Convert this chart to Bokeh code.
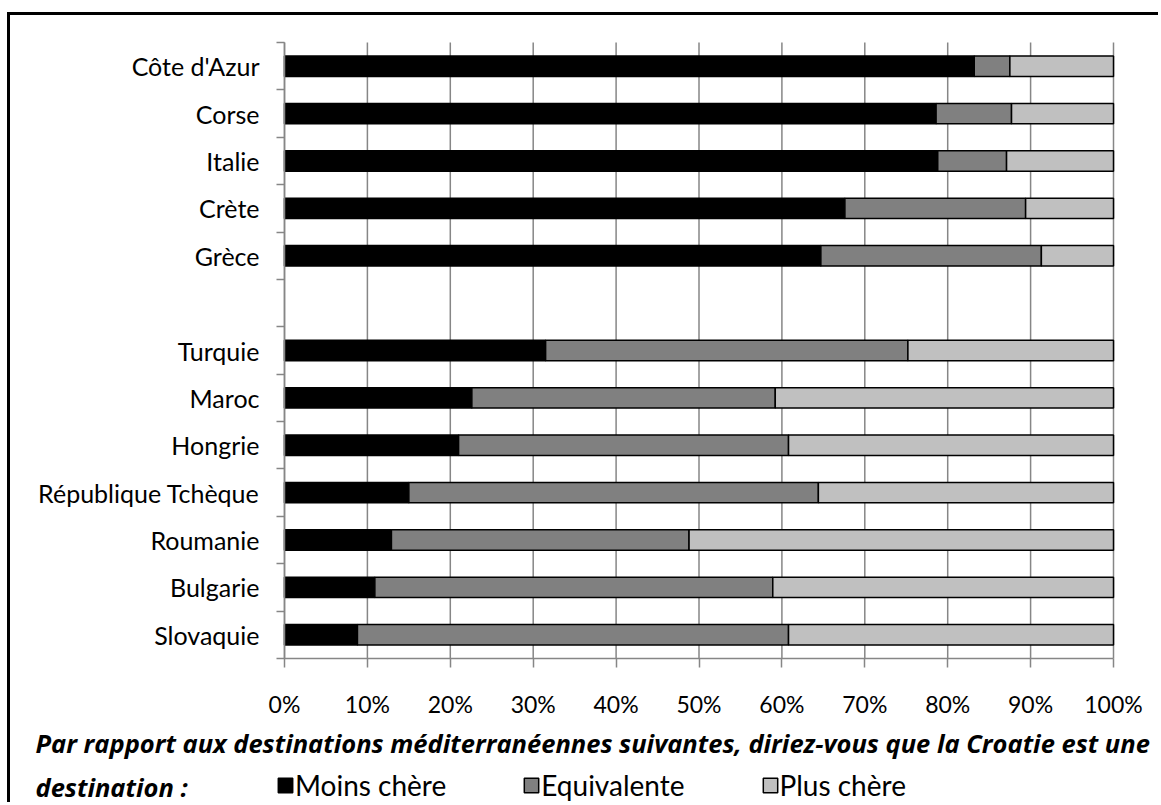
from bokeh.plotting import figure
from bokeh.models import (Range1d, FixedTicker, Legend, LegendItem, Label,
                          PrintfTickFormatter, ColumnDataSource)
from bokeh.embed import file_html
from bokeh.resources import INLINE

# ---------------- data ----------------
categories = ["Côte d'Azur", "Corse", "Italie", "Crète", "Grèce",
              "Turquie", "Maroc", "Hongrie", "République Tchèque",
              "Roumanie", "Bulgarie", "Slovaquie"]
group_sizes = [5, 7]  # two groups separated by an empty row

moins = [83.2, 78.6, 78.8, 67.6, 64.7, 31.5, 22.6, 21.0, 15.0, 12.9, 10.9, 8.8]
equiv = [4.3, 9.1, 8.3, 21.8, 26.6, 43.7, 36.6, 39.8, 49.4, 35.9, 48.0, 52.0]
plus = [12.5, 12.3, 12.9, 10.6, 8.7, 24.8, 40.8, 39.2, 35.6, 51.2, 41.1, 39.2]

series = ["Moins chère", "Equivalente", "Plus chère"]
colors = ["#000000", "#808080", "#C0C0C0"]
x_ticks = [0, 10, 20, 30, 40, 50, 60, 70, 80, 90, 100]
caption_line1 = "Par rapport aux destinations méditerranéennes suivantes, diriez-vous que la Croatie est une"
caption_line2 = "destination :"

# ---------------- positions (slot index from the top) ----------------
total_slots = sum(group_sizes) + len(group_sizes) - 1
ypos = []
slot = 0
for g in group_sizes:
    for _ in range(g):
        ypos.append(total_slots - slot - 0.5)
        slot += 1
    slot += 1  # gap row
boundaries = list(range(0, total_slots + 1))

source = ColumnDataSource(dict(y=ypos, cat=categories,
                               **{series[0]: moins, series[1]: equiv, series[2]: plus}))

FONT = "Lato"
GRAY = "#868686"

# canvas size and plotting-area placement (pixels in the canvas)
W, H = 1151, 790
AX_L, AX_R, AX_T, AX_B = 274, 1103, 27, 643
sx = (AX_R - AX_L) / 100.0
sy = (AX_B - AX_T) / total_slots
x_range = Range1d(-AX_L / sx, 100 + (W - AX_R) / sx)
y_range = Range1d(-(H - AX_B) / sy, total_slots + AX_T / sy)


def px_x(px):
    return x_range.start + px / sx


def px_y(py):
    return y_range.end - py / sy


p = figure(width=W, height=H, output_backend="svg", toolbar_location=None,
           x_range=x_range, y_range=y_range,
           min_border=0, min_border_left=0, min_border_right=0,
           min_border_top=0, min_border_bottom=0,
           background_fill_color="white", border_fill_color="white",
           styles={"margin-left": "7px", "margin-top": "12px",
                   "border-left": "3px solid black", "border-top": "3px solid black"})
p.outline_line_color = None
p.grid.visible = False

# vertical gridlines at the x ticks, over the plotting area
p.segment(x0=x_ticks, x1=x_ticks, y0=[0] * len(x_ticks), y1=[total_slots] * len(x_ticks),
          line_color=GRAY, line_width=1.5)

renderers = p.hbar_stack(series, y="y", height=0.43, source=source,
                         fill_color=colors, line_color="black", line_width=1.5)

# x axis
xa = p.xaxis[0]
xa.fixed_location = 0
xa.bounds = (0, 100)
xa.ticker = FixedTicker(ticks=x_ticks)
xa.formatter = PrintfTickFormatter(format="%d%%")
xa.axis_line_color = GRAY
xa.axis_line_width = 1.5
xa.major_tick_line_color = GRAY
xa.major_tick_line_width = 1.5
xa.major_tick_in = 0
xa.major_tick_out = 9
xa.minor_tick_line_color = None
xa.major_label_standoff = 22
xa.major_label_text_font = FONT
xa.major_label_text_font_size = "23px"
xa.major_label_text_color = "black"

# y axis
ya = p.yaxis[0]
ya.fixed_location = 0
ya.bounds = (0, total_slots)
ya.ticker = FixedTicker(ticks=ypos, minor_ticks=boundaries)
ya.major_label_overrides = {y: c for y, c in zip(ypos, categories)}
ya.axis_line_color = GRAY
ya.axis_line_width = 1.5
ya.major_tick_in = 0
ya.major_tick_out = 0
ya.minor_tick_in = 0
ya.minor_tick_out = 8
ya.minor_tick_line_color = GRAY
ya.minor_tick_line_width = 1.5
ya.major_label_standoff = 17
ya.major_label_text_font = FONT
ya.major_label_text_font_size = "25px"
ya.major_label_text_color = "black"

# caption
for txt, base in [(caption_line1, 727), (caption_line2, 771)]:
    p.add_layout(Label(x=px_x(25), y=px_y(base), text=txt,
                       text_font="Open Sans", text_font_size="25.5px",
                       text_font_style="bold italic", text_baseline="alphabetic",
                       text_color="black"))

# legend
legend = Legend(items=[LegendItem(label=s, renderers=[r]) for s, r in zip(series, renderers)],
                orientation="horizontal", location=(266, 3),
                glyph_width=18, glyph_height=18, label_standoff=1, spacing=76,
                padding=0, margin=0, border_line_color=None,
                background_fill_alpha=0, label_text_font=FONT,
                label_text_font_size="28px", label_text_color="black")
p.add_layout(legend, "center")

open("out.html", "w").write(file_html(p, INLINE))
